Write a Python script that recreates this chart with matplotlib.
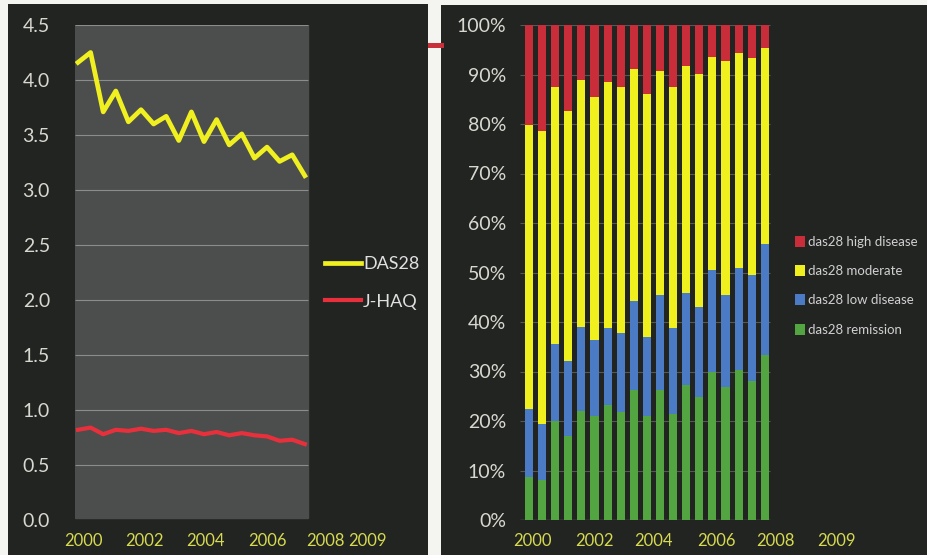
import matplotlib.pyplot as plt
import matplotlib.patches as mpatches
import numpy as np

# --- data (semi-annual visits) ---
das28 = [4.16, 4.25, 3.71, 3.90, 3.62, 3.73, 3.60, 3.67, 3.45, 3.71,
         3.44, 3.64, 3.41, 3.51, 3.29, 3.39, 3.26, 3.32, 3.13]
jhaq = [0.82, 0.84, 0.78, 0.82, 0.81, 0.83, 0.81, 0.82, 0.79, 0.81,
        0.78, 0.80, 0.77, 0.79, 0.77, 0.76, 0.72, 0.73, 0.69]

# das28 category shares, percent
remission = [8.6, 8.1, 19.9, 17.0, 22.0, 21.0, 23.2, 21.9, 26.3, 21.0,
             26.3, 21.5, 27.3, 24.9, 30.0, 26.9, 30.4, 28.1, 33.3]
low_disease = [13.8, 11.2, 15.7, 15.2, 16.9, 15.4, 15.5, 15.9, 18.0, 16.0,
               19.2, 17.2, 18.6, 18.2, 20.5, 18.6, 20.5, 21.4, 22.4]
moderate = [57.4, 59.3, 51.8, 50.4, 50.0, 49.1, 49.7, 49.7, 46.8, 49.1,
            45.2, 48.7, 45.8, 47.0, 43.1, 47.2, 43.5, 43.8, 39.7]
high_disease = [20.2, 21.4, 12.6, 17.4, 11.1, 14.5, 11.6, 12.5, 8.9, 13.9,
                9.3, 12.6, 8.3, 9.9, 6.4, 7.3, 5.6, 6.7, 4.6]

year_labels = ['2000', '2002', '2004', '2006', '2008', '2009']

plt.rcParams['font.family'] = ['Lato', 'DejaVu Sans']

BG = '#222422'
PLOT_GRAY = '#4b4e4c'
TICK_Y = '#d8d8d0'
TICK_X = '#d6da4e'

fig = plt.figure(figsize=(9.28, 5.55), dpi=100)
fig.patch.set_facecolor('#f4f4f0')

W, H = 928.0, 555.0

def fx(px):
    return px / W

def fy(py):
    return 1 - py / H

# dark panel backgrounds (behind the axes)
fig.patches.append(mpatches.Rectangle((fx(8), 0), fx(428 - 8), fy(4), transform=fig.transFigure,
                                      facecolor=BG, edgecolor='none', zorder=-2))
fig.patches.append(mpatches.Rectangle((fx(441), 0), fx(928 - 441), fy(5), transform=fig.transFigure,
                                      facecolor=BG, edgecolor='none', zorder=-2))
# little red mark between the panels
fig.patches.append(mpatches.Rectangle((fx(428), fy(48)), fx(16), 5 / H, transform=fig.transFigure,
                                      facecolor='#c8303a', edgecolor='none', zorder=-1))

x = np.arange(len(das28))

# ---------------- left: DAS28 / J-HAQ ----------------
axl = fig.add_axes([fx(75), fy(520), fx(420 - 75), (520 - 25) / H])
axl.set_facecolor('none')
step_l = 12.6
x0_l = (78 - 75) / step_l
axl.set_xlim(-x0_l, -x0_l + (420 - 75) / step_l)
axl.set_ylim(0, 4.5)
gray_end = -x0_l + (308 - 75) / step_l
axl.axvspan(-x0_l, gray_end, ymin=0.004, ymax=1.006, color=PLOT_GRAY, zorder=0)
axl.hlines(np.arange(0.5, 4.51, 0.5), -x0_l, gray_end, color='#8a8d8a', lw=0.8, zorder=1)
axl.plot(x, das28, color='#f0f020', lw=3.4, label='DAS28', zorder=3)
axl.plot(x, jhaq, color='#e8303c', lw=3.0, label='J-HAQ', zorder=3)
axl.set_yticks(np.arange(0, 4.51, 0.5))
axl.set_yticklabels([f'{v:.1f}' for v in np.arange(0, 4.51, 0.5)])
axl.set_xticks([0.4, 5.3, 10.1, 15.0, 19.6, 23.0])
axl.set_xticklabels(year_labels)
axl.tick_params(axis='y', colors=TICK_Y, labelsize=14, length=0, pad=18)
axl.tick_params(axis='x', colors=TICK_X, labelsize=12, length=0, pad=9)
for s in axl.spines.values():
    s.set_visible(False)
leg = axl.legend(loc='center left', bbox_to_anchor=((318 - 75) / (420 - 75), 0.479),
                 frameon=False, handlelength=2.0, handletextpad=0.1, labelspacing=1.2,
                 fontsize=13, borderaxespad=0)
for t in leg.get_texts():
    t.set_color('#e0e0e0')

# ---------------- right: stacked das28 categories ----------------
axr = fig.add_axes([fx(520), fy(520), fx(890 - 520), (520 - 25) / H])
axr.set_facecolor('none')
step_r = 13.1
x0_r = (529 - 520) / step_r
axr.set_xlim(-x0_r, -x0_r + (890 - 520) / step_r)
axr.set_ylim(0, 100)
plot_end = -x0_r + (770 - 520) / step_r
axr.hlines(np.arange(10, 101, 10), -x0_r, plot_end, color='#555855', lw=0.8, zorder=0)
axr.hlines(0, -x0_r, plot_end, color='#6a6d6a', lw=1.0, zorder=0)

bw = 0.62
b1 = axr.bar(x, remission, bw, color='#52a540', label='das28 remission', zorder=2)
b2 = axr.bar(x, low_disease, bw, bottom=remission, color='#4b7bc4', label='das28 low disease', zorder=2)
bot3 = np.array(remission) + np.array(low_disease)
b3 = axr.bar(x, moderate, bw, bottom=bot3, color='#f0f01e', label='das28 moderate', zorder=2)
bot4 = bot3 + np.array(moderate)
b4 = axr.bar(x, high_disease, bw, bottom=bot4, color='#c92d39', label='das28 high disease', zorder=2)

axr.set_yticks(np.arange(0, 101, 10))
axr.set_yticklabels([f'{v}%' for v in range(0, 101, 10)])
axr.set_xticks([0.3, 5.0, 9.5, 14.3, 18.8, 23.5])
axr.set_xticklabels(year_labels)
axr.tick_params(axis='y', colors=TICK_Y, labelsize=14, length=0, pad=10)
axr.tick_params(axis='x', colors=TICK_X, labelsize=12, length=0, pad=9)
for s in axr.spines.values():
    s.set_visible(False)

leg2 = axr.legend(handles=[b4, b3, b2, b1], loc='center left',
                  bbox_to_anchor=((790 - 520) / (890 - 520), 0.473), frameon=False,
                  handlelength=0.7, handleheight=0.9, handletextpad=0.3, labelspacing=1.3,
                  fontsize=9.5, borderaxespad=0)
for t in leg2.get_texts():
    t.set_color('#d0d0d0')

fig.savefig('out.png', dpi=100, facecolor=fig.get_facecolor())
